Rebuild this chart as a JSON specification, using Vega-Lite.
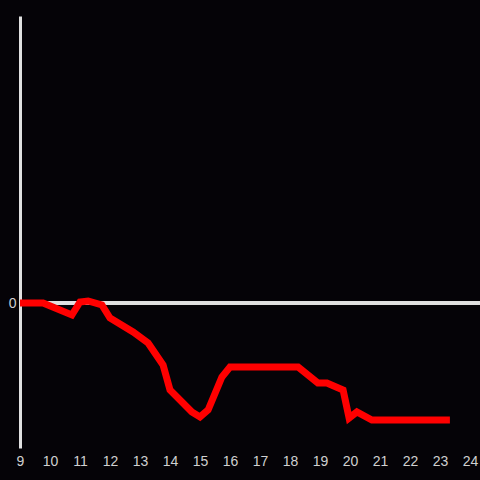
{
  "$schema": "https://vega.github.io/schema/vega-lite/v6.json",
  "width": 460,
  "height": 432,
  "autosize": {"type": "none"},
  "padding": {"left": 20, "top": 16, "right": 0, "bottom": 32},
  "background": "#050307",
  "config": {
    "view": {"stroke": null},
    "axis": {"grid": false, "labelFont": "Liberation Sans", "labelFontSize": 14, "labelColor": "#d0d0d0", "domainColor": "#e0e0e0", "domainWidth": 3, "ticks": false, "title": null}
  },
  "data": {
    "values": [
      {"t": 9.0, "v": 0},
      {"t": 9.77, "v": 0},
      {"t": 10.73, "v": -12},
      {"t": 11.0, "v": 1},
      {"t": 11.27, "v": 2},
      {"t": 11.73, "v": -2},
      {"t": 12.0, "v": -15},
      {"t": 12.77, "v": -29},
      {"t": 13.27, "v": -40},
      {"t": 13.77, "v": -62},
      {"t": 14.0, "v": -87},
      {"t": 14.73, "v": -109},
      {"t": 15.0, "v": -114},
      {"t": 15.27, "v": -107},
      {"t": 15.73, "v": -74},
      {"t": 16.0, "v": -64},
      {"t": 18.27, "v": -64},
      {"t": 18.93, "v": -80},
      {"t": 19.23, "v": -80},
      {"t": 19.77, "v": -87},
      {"t": 19.97, "v": -115},
      {"t": 20.23, "v": -109},
      {"t": 20.73, "v": -117},
      {"t": 23.33, "v": -117}
    ]
  },
  "layer": [
    {
      "mark": {"type": "rule", "color": "#e0e0e0", "strokeWidth": 3},
      "encoding": {"y": {"datum": 0, "type": "quantitative", "scale": {"domain": [-145, 287]}}}
    },
    {
      "mark": {"type": "line", "color": "#ff0000", "strokeWidth": 7, "strokeJoin": "miter", "strokeCap": "butt"},
      "encoding": {
        "x": {"field": "t", "type": "quantitative", "scale": {"domain": [9, 24.3333], "nice": false, "zero": false},
              "axis": {"values": [9,10,11,12,13,14,15,16,17,18,19,20,21,22,23,24], "domain": false, "labelPadding": 6, "labelFlush": false, "labelOverlap": false}},
        "y": {"field": "v", "type": "quantitative", "scale": {"domain": [-145, 287], "nice": false, "zero": false},
              "axis": {"values": [0], "labelPadding": 4}}
      }
    }
  ]
}
